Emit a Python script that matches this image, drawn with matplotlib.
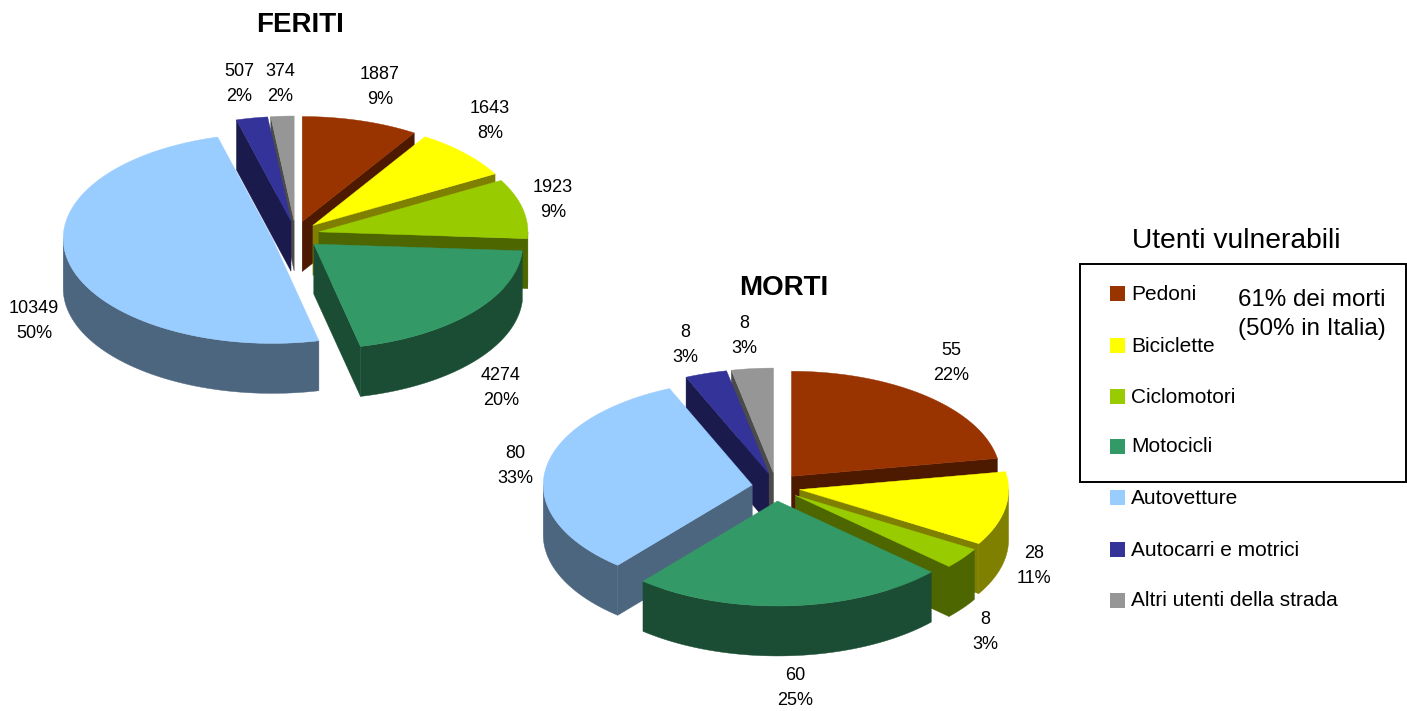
import numpy as np
import matplotlib
matplotlib.use("Agg")
import matplotlib.pyplot as plt
from matplotlib.patches import Polygon, Rectangle

plt.rcParams['font.family'] = ['Liberation Sans', 'DejaVu Sans']

# data
categories = ["Pedoni", "Biciclette", "Ciclomotori", "Motocicli", "Autovetture",
              "Autocarri e motrici", "Altri utenti della strada"]
feriti_values = [1887, 1643, 1923, 4274, 10349, 507, 374]
feriti_pct = [9, 8, 9, 20, 50, 2, 2]
morti_values = [55, 28, 8, 60, 80, 8, 8]
morti_pct = [22, 11, 3, 25, 33, 3, 3]

top_colors = ["#993300", "#FFFF00", "#99CC00", "#339966", "#99CCFF", "#333399", "#969696"]
side_colors = ["#4D1A00", "#808000", "#4D6600", "#1A4D33", "#4D6680", "#1A1A4D", "#4B4B4B"]

# where the two-line labels sit (pixel centres)
feriti_label_pos = [(380, 87), (490, 121), (553, 200), (501, 388), (34, 321), (239, 84), (280, 84)]
morti_label_pos = [(951, 363), (1034, 566), (985, 632), (795, 688), (515, 466), (685, 345), (744, 336)]

RX, RY, DEPTH = 209, 105, 50
EXPLODE_X, EXPLODE_Y = 24, 14


def rim(cx, cy, deg):
    a = np.radians(deg)
    return cx + RX * np.sin(a), cy - RY * np.cos(a)


def draw_pie(ax, values, cx, cy):
    vals = np.array(values, dtype=float)
    edges = np.concatenate([[0], np.cumsum(vals) / vals.sum() * 360])
    mids = (edges[:-1] + edges[1:]) / 2
    # back wedges first
    order = np.argsort(-np.cos(np.radians(mids)))
    for i in order:
        a0, a1, mid = edges[i], edges[i + 1], mids[i]
        x0 = cx + EXPLODE_X * np.sin(np.radians(mid))
        y0 = cy - EXPLODE_Y * np.cos(np.radians(mid))
        side = side_colors[i]

        # radial walls that face the viewer
        for ang, visible in ((a0, np.sin(np.radians(a0)) < 0), (a1, np.sin(np.radians(a1)) > 0)):
            if visible:
                ex, ey = rim(x0, y0, ang)
                ax.add_patch(Polygon([(x0, y0), (ex, ey), (ex, ey + DEPTH), (x0, y0 + DEPTH)],
                                     fc=side, ec=side, lw=0.3))

        # curved outer wall, front half only
        lo, hi = max(a0, 90), min(a1, 270)
        if hi > lo:
            t = np.linspace(lo, hi, 80)
            xs, ys = rim(x0, y0, t)
            pts = np.vstack([np.column_stack([xs, ys]),
                             np.column_stack([xs[::-1], ys[::-1] + DEPTH])])
            ax.add_patch(Polygon(pts, fc=side, ec=side, lw=0.3))

        # top face
        t = np.linspace(a0, a1, 120)
        xs, ys = rim(x0, y0, t)
        pts = np.vstack([[x0, y0], np.column_stack([xs, ys])])
        ax.add_patch(Polygon(pts, fc=top_colors[i], ec=top_colors[i], lw=0.3))


fig = plt.figure(figsize=(14.07, 7.11), dpi=100)
ax = fig.add_axes([0, 0, 1, 1])
ax.set_xlim(0, 1407)
ax.set_ylim(711, 0)
ax.axis("off")

draw_pie(ax, feriti_values, 295.5, 235)
draw_pie(ax, morti_values, 776, 487)

for vals, pcts, pos in ((feriti_values, feriti_pct, feriti_label_pos),
                        (morti_values, morti_pct, morti_label_pos)):
    for v, p, (x, y) in zip(vals, pcts, pos):
        ax.text(x, y - 12.5, str(v), ha="center", va="center", fontsize=13, color="black")
        ax.text(x, y + 12.5, f"{p}%", ha="center", va="center", fontsize=13, color="black")

ax.text(300, 25, "FERITI", ha="center", va="center", fontsize=20, fontweight="bold")
ax.text(784, 288, "MORTI", ha="center", va="center", fontsize=20, fontweight="bold")

# legend
ax.text(1236, 241, "Utenti vulnerabili", ha="center", va="center", fontsize=20.3)
ax.add_patch(Rectangle((1079.5, 263.5), 326, 218, fc="none", ec="black", lw=1.4))
legend_y = [293.5, 345, 396.5, 446, 497, 549, 600]
for name, col, y in zip(categories, top_colors, legend_y):
    ax.add_patch(Rectangle((1110, y - 7.5), 15, 15, fc=col, ec="none"))
    ax.text(1131, y + 1, name, ha="left", va="center", fontsize=15)
ax.text(1312, 300, "61% dei morti", ha="center", va="center", fontsize=17.4)
ax.text(1312, 329, "(50% in Italia)", ha="center", va="center", fontsize=17.4)

fig.savefig("out.png", dpi=100, facecolor="white")
